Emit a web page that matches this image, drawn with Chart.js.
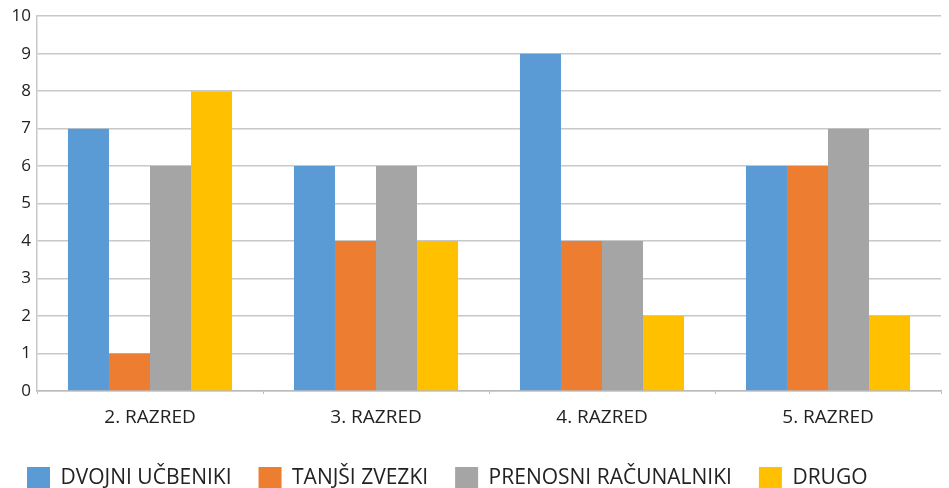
<!DOCTYPE html>
<html>
<head>
<meta charset="utf-8">
<script src="https://cdn.jsdelivr.net/npm/chart.js@4"></script>
<style>
html,body{margin:0;padding:0;background:#fff;overflow:hidden;width:949px;height:488px;}
canvas{display:block;}
</style>
</head>
<body>
<canvas id="c" width="949" height="502"></canvas>
<script>
const categories = ["2. RAZRED", "3. RAZRED", "4. RAZRED", "5. RAZRED"];
const seriesNames = ["DVOJNI UČBENIKI", "TANJŠI ZVEZKI", "PRENOSNI RAČUNALNIKI", "DRUGO"];
const dvojniUcbeniki = [7, 6, 9, 6];
const tanjsiZvezki = [1, 4, 4, 6];
const prenosniRacunalniki = [6, 6, 4, 7];
const drugo = [8, 4, 2, 2];
const yTicks = [0,1,2,3,4,5,6,7,8,9,10];
const colors = ["#5B9BD5", "#ED7D31", "#A5A5A5", "#FFC000"];

const FONT = "'Open Sans', sans-serif";
const values = [dvojniUcbeniki, tanjsiZvezki, prenosniRacunalniki, drugo];

new Chart(document.getElementById('c'), {
  type: 'bar',
  data: {
    labels: categories,
    datasets: values.map((v, i) => ({
      label: seriesNames[i],
      data: v,
      backgroundColor: colors[i],
      borderWidth: 0,
      barPercentage: 1,
      categoryPercentage: 0.726
    }))
  },
  options: {
    responsive: false,
    animation: false,
    layout: { padding: { top: 5, right: 8, left: 0, bottom: 2 } },
    plugins: {
      tooltip: { enabled: false },
      legend: {
        position: 'bottom',
        align: 'start',
        labels: {
          boxWidth: 23,
          boxHeight: 23,
          padding: 27,
          color: '#222',
          font: { family: FONT, size: 21 }
        }
      }
    },
    scales: {
      x: {
        grid: { display: true, drawOnChartArea: false, drawTicks: true, tickLength: 3, color: '#bbb' },
        border: { display: true, color: '#bbb', width: 1.5 },
        ticks: { color: '#222', font: { family: FONT, size: 19 }, padding: 12 },
        afterFit: s => { s.height = 49; }
      },
      y: {
        min: 0, max: 10,
        afterBuildTicks: s => { s.ticks = yTicks.map(v => ({ value: v })); },
        grid: { color: '#c8c8c8', lineWidth: 1.5, drawTicks: false },
        border: { display: true, color: '#c8c8c8', width: 1.5 },
        ticks: { color: '#222', font: { family: FONT, size: 17 }, padding: 6 },
        afterFit: s => { s.width = 37; }
      }
    }
  }
});
</script>
</body>
</html>
